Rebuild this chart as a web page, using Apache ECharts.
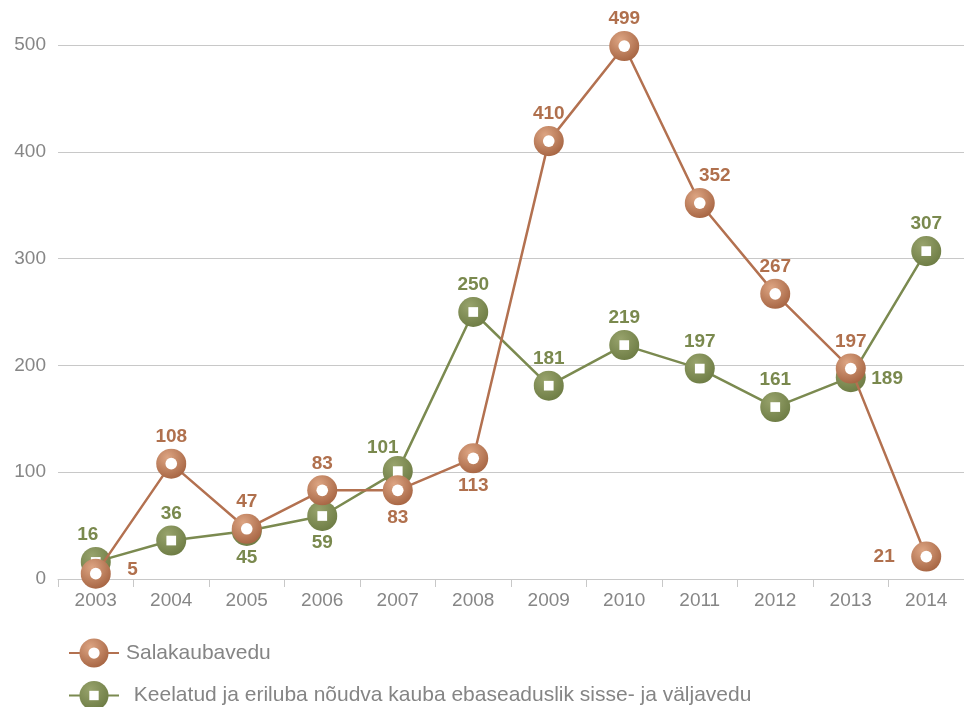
<!DOCTYPE html>
<html>
<head>
<meta charset="utf-8">
<style>
  html, body { margin: 0; padding: 0; background: #fff; }
  #chart { width: 964px; height: 707px; }
</style>
<script src="https://cdn.jsdelivr.net/npm/echarts@6/dist/echarts.min.js"></script>
</head>
<body>
<div id="chart"></div>
<script>
// Years on the category axis
const years = ['2003', '2004', '2005', '2006', '2007', '2008', '2009', '2010', '2011', '2012', '2013', '2014'];

// Case counts per year
const smuggling = [5, 108, 47, 83, 83, 113, 410, 499, 352, 267, 197, 21];
const prohibitedGoods = [16, 36, 45, 59, 101, 250, 181, 219, 197, 161, 189, 307];

const seriesNames = ['Salakaubavedu', 'Keelatud ja eriluba nõudva kauba ebaseaduslik sisse- ja väljavedu'];

// Value axis ticks
const yTicks = [0, 100, 200, 300, 400, 500];

const ORANGE = '#b37150';
const GREEN = '#7b8a50';
const ORANGE_TEXT = '#b0704d';
const GREEN_TEXT = '#7a894e';
const FONT = 'Liberation Sans, Arial, Helvetica, sans-serif';

// Marker artwork: shaded disc with a white centre (circle or square)
function markerSvg(light, dark, inner) {
  const svg =
    "<svg xmlns='http://www.w3.org/2000/svg' width='64' height='64' viewBox='0 0 64 64'>" +
    "<defs><radialGradient id='g' cx='38%' cy='30%' r='78%'>" +
    "<stop offset='0' stop-color='" + light + "'/>" +
    "<stop offset='1' stop-color='" + dark + "'/>" +
    "</radialGradient></defs>" +
    "<circle cx='32' cy='32' r='31' fill='url(#g)'/>" + inner + "</svg>";
  return 'image://data:image/svg+xml;charset=utf-8,' + encodeURIComponent(svg);
}
const orangeSymbol = markerSvg('#dda583', '#a3613f', "<circle cx='32' cy='32' r='12' fill='#ffffff'/>");
const greenSymbol = markerSvg('#98a36c', '#6b7a42', "<rect x='22' y='22' width='20' height='20' fill='#ffffff'/>");

// Where each value label sits relative to its marker
const smugglingLabelPlacement = [
  { position: 'right', distance: 16, offset: [0, -4] },
  { position: 'top' }, { position: 'top' }, { position: 'top' },
  { position: 'bottom' }, { position: 'bottom' },
  { position: 'top' }, { position: 'top' },
  { position: 'top', offset: [15, 0] },
  { position: 'top' }, { position: 'top' },
  { position: 'left', distance: 16 }
];
const goodsLabelPlacement = [
  { position: 'top', offset: [-8, 0] },
  { position: 'top' },
  { position: 'bottom' }, { position: 'bottom' },
  { position: 'top', offset: [-15, 4] },
  { position: 'top' }, { position: 'top' }, { position: 'top' }, { position: 'top' }, { position: 'top' },
  { position: 'right', distance: 5, offset: [0, 2] },
  { position: 'top' }
];

function withLabels(values, placement, color) {
  return values.map((v, i) => ({
    value: v,
    label: Object.assign({ show: true, distance: 2, color: color }, placement[i])
  }));
}

const labelFont = { fontSize: 19, fontWeight: 'bold', fontFamily: FONT };

const chart = echarts.init(document.getElementById('chart'));
chart.setOption({
  animation: false,
  backgroundColor: '#ffffff',
  textStyle: { fontFamily: FONT },
  grid: { left: 58, top: 45, width: 910, height: 534, containLabel: false },
  legend: {
    orient: 'vertical',
    left: 63,
    top: 633,
    height: 100,
    itemWidth: 50,
    itemHeight: 37.5,
    itemGap: 12.5,
    data: [
      { name: seriesNames[0], textStyle: { padding: [0, 0, 0, 2] } },
      { name: seriesNames[1], textStyle: { padding: [0, 0, 0, 4] } }
    ],
    formatter: name => (name === seriesNames[1] ? ' ' + name : name),
    textStyle: { fontSize: 21, color: '#858585', fontFamily: FONT }
  },
  xAxis: {
    type: 'category',
    data: years,
    boundaryGap: true,
    axisLine: { lineStyle: { color: '#c8c8c8', width: 1 } },
    axisTick: { show: true, length: 8, lineStyle: { color: '#c8c8c8' } },
    axisLabel: { fontSize: 19, color: '#868686', margin: 12 },
    splitLine: { show: false }
  },
  yAxis: {
    type: 'value',
    min: yTicks[0],
    max: yTicks[yTicks.length - 1],
    interval: yTicks[1] - yTicks[0],
    axisLine: { show: false },
    axisTick: { show: false },
    axisLabel: { fontSize: 19, color: '#868686', margin: 12 },
    splitLine: { lineStyle: { color: '#c8c8c8', width: 1 } }
  },
  series: [
    {
      name: seriesNames[1],
      type: 'line',
      z: 2,
      data: withLabels(prohibitedGoods, goodsLabelPlacement, GREEN_TEXT),
      symbol: greenSymbol,
      symbolSize: 31,
      lineStyle: { color: GREEN, width: 2.5 },
      itemStyle: { color: GREEN },
      label: labelFont
    },
    {
      name: seriesNames[0],
      type: 'line',
      z: 3,
      data: withLabels(smuggling, smugglingLabelPlacement, ORANGE_TEXT),
      symbol: orangeSymbol,
      symbolSize: 31,
      lineStyle: { color: ORANGE, width: 2.5 },
      itemStyle: { color: ORANGE },
      label: labelFont
    }
  ]
});
</script>
</body>
</html>
